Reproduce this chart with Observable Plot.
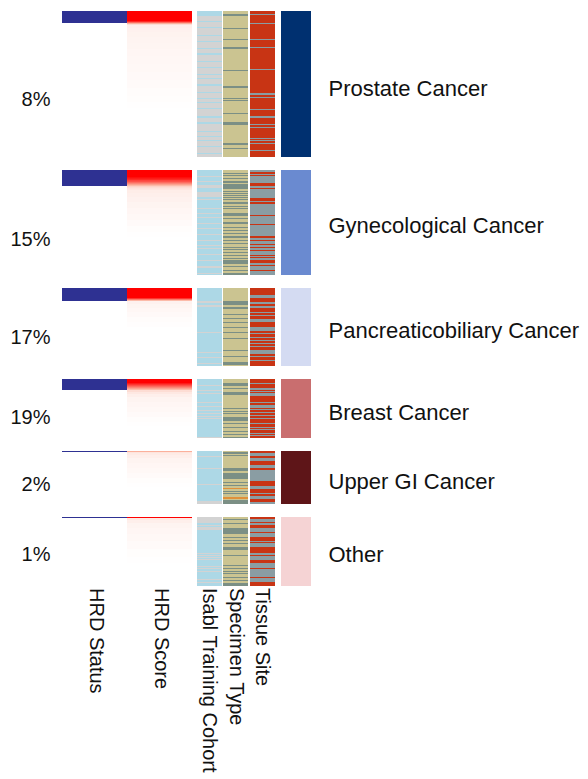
<!DOCTYPE html>
<html><head><meta charset="utf-8">
<script src="https://cdn.jsdelivr.net/npm/d3@7"></script>
<script src="https://cdn.jsdelivr.net/npm/@observablehq/plot@0.6"></script>
<style>html,body{margin:0;padding:0;background:#fff;overflow:hidden}</style>
</head><body><div id="chart"></div>
<script>
// ---------------- data ----------------
const groups = ["Prostate Cancer","Gynecological Cancer","Pancreaticobiliary Cancer","Breast Cancer","Upper GI Cancer","Other"];
const pctLabels = ["8%","15%","17%","19%","2%","1%"];
const sampleCounts = [146,105,78,59,53,69];
const hrdPositiveCounts = [12,16,13,11,1,1];
const groupColors = ["#003070","#6a8ad0","#d4dbf2","#c96e6f","#5e1518","#f5d3d4"];
const columnNames = ["HRD Status","HRD Score","Isabl Training Cohort","Specimen Type","Tissue Site"];

// HRD score (sorted, top rows first) as [score, number of rows]
const hrdScoreRuns = [
  [[1,10],[0.85,1],[0.6,1],[0.35,1],[0.15,1],[0.07,3],[0.06,4],[0.055,5],[0.05,6],[0.045,6],[0.04,7],[0.035,8],[0.03,8],[0.025,8],[0.02,8],[0.015,8],[0.01,6],[0.005,6]],
  [[1,7],[0.95,1],[0.9,1],[0.85,1],[0.75,1],[0.7,1],[0.6,1],[0.5,1],[0.4,1],[0.3,1],[0.2,1],[0.15,1],[0.12,1],[0.1,1],[0.08,3],[0.07,4],[0.06,5],[0.05,6],[0.04,6],[0.03,6],[0.02,6],[0.01,6],[0.005,5]],
  [[1,10],[0.8,1],[0.55,1],[0.3,1],[0.06,3],[0.045,4],[0.035,4],[0.025,5],[0.015,5],[0.007,5]],
  [[1,4],[0.9,1],[0.8,1],[0.7,1],[0.6,1],[0.5,1],[0.4,1],[0.3,1],[0.15,2],[0.1,2],[0.07,3],[0.05,5],[0.04,5],[0.03,5],[0.02,5],[0.01,5],[0.005,4]],
  [[0.35,1],[0.12,1],[0.09,2],[0.07,3],[0.05,5],[0.04,5],[0.03,5],[0.02,5],[0.01,5],[0.005,4]],
  [[1,1],[0.1,2],[0.07,3],[0.05,5],[0.04,6],[0.03,7],[0.02,8],[0.01,8],[0.005,6]]
];

// Isabl training cohort: base category and rows (from group top) of the other category
const cohortBase = ["No","Yes","Yes","Yes","Yes","Yes"];
const cohortOther = [
  [[0,4],10,16,24,30,37,[42,43],50,56,63,67,[73,74],81,87,91,97,[105,106],[111,112],120,125,129,135,142],
  [6,11,[15,17],[22,26],29,38,43,47,53,58,64,70,75,78,84,90,[96,97],103],
  [[13,14],[17,18],44,64,69,75],
  [6,11,14,23,27,31,34,37,39,58],
  [5,17,33,[50,52]],
  [[0,5],8,[10,12],36,38,40,42,49,51,54,62,65]
];

// Specimen type: rows of "Metastasis" on a "Primary" base, plus rare "Unknown"
const specimenMet = [
  [[3,4],17,28,36,37,59,[75,76],87,89,102,[111,113],[132,133],137],
  [3,5,8,[11,12],[14,18],21,23,25,27,29,[32,33],36,38,[43,45],48,[52,53],57,60,63,[66,67],70,73,77,79,82,85,88,[90,93],96,100,[103,104]],
  [[13,16],[19,20],26,30,34,39,44,50,62,68,[74,76]],
  [[4,6],9,[13,15],29,32,34,38,[39,41],44,48,52,55,58],
  [1,2,4,[17,19],[22,27],31,34,40,42,[49,52]],
  [2,6,[11,16],20,23,26,[30,32],38,48,51,54,56,60,63,[66,68]]
];
const specimenUnknown = [[],[],[],[],[37,[46,47]],[]];

// Tissue site: base category and rows of the other category
const tissueBase = ["Primary","Metastatic","Primary","Primary","Primary","Metastatic"];
const tissueOther = [
  [3,12,28,36,58,[82,83],86,98,[105,106],113,116,127,129,132,139],
  [[2,3],5,[13,15],18,[28,30],32,33,45,54,[66,67],70,74,77,80,85,87,[90,92],95,100],
  [[7,9],[14,15],[18,19],24,27,[31,33],[39,42],45,49,52,55,58,[62,65],68,72],
  [4,[9,10],12,[14,16],23,[26,28],30,33,36,39,44,48,50,54,56],
  [[2,4],[7,9],[14,16],[19,21],[22,29],[35,37],42,[45,47],[51,52]],
  [[0,1],5,[8,10],15,[20,23],25,[30,35],38,[43,45],51,60,[65,68]]
];

// ---------------- layout / styles ----------------
const W = 588, H = 779, GAP = 13;
const cols = {status:[62,127], score:[127,192], cohort:[197,222], specimen:[223,248], tissue:[250,275], group:[281,311]};
const palette = {
  cohort: {Yes:"#add8e6", No:"#d3d3d3"},
  specimen: {Primary:"#cbc491", Metastasis:"#7b8f85", Unknown:"#e0913a"},
  tissue: {Primary:"#c83414", Metastatic:"#8a9da3"}
};
const statusColor = "#2e3192";
const font = "'Liberation Sans', Arial, Helvetica, sans-serif";
const pctPos = [0.6, 0.66, 0.63, 0.65, 0.63, 0.54];   // vertical placement of % labels within each block
const namePos = [0.53, 0.53, 0.54, 0.56, 0.57, 0.54]; // vertical placement of group names

// ---------------- derive rows ----------------
const offsets = [];
let acc = 0;
sampleCounts.forEach((n,i)=>{ offsets.push(acc); acc += n + (i < sampleCounts.length-1 ? GAP : 0); });
const total = acc;

function rowSet(list){ const s = new Set(); for (const e of list){ if (Array.isArray(e)) for (let r=e[0]; r<=e[1]; r++) s.add(r); else s.add(e);} return s; }

function runs(values, key, g){
  const out = []; let start = 0;
  for (let r=1; r<=values.length; r++){
    if (r===values.length || values[r]!==values[start]){
      out.push({col:key, cat:values[start], y1:offsets[g]+start, y2:offsets[g]+r, group:groups[g]});
      start = r;
    }
  }
  return out;
}

const annot = [];
const scoreRects = [];
const statusRects = [];
groups.forEach((name,g)=>{
  const n = sampleCounts[g];
  const co = rowSet(cohortOther[g]);
  const cohortVals = d3.range(n).map(r => co.has(r) ? (cohortBase[g]==="Yes"?"No":"Yes") : cohortBase[g]);
  const sm = rowSet(specimenMet[g]), su = rowSet(specimenUnknown[g]);
  const specVals = d3.range(n).map(r => su.has(r) ? "Unknown" : sm.has(r) ? "Metastasis" : "Primary");
  const to = rowSet(tissueOther[g]);
  const tisVals = d3.range(n).map(r => to.has(r) ? (tissueBase[g]==="Primary"?"Metastatic":"Primary") : tissueBase[g]);
  annot.push(...runs(cohortVals,"cohort",g), ...runs(specVals,"specimen",g), ...runs(tisVals,"tissue",g));
  let r = 0;
  for (const [s,k] of hrdScoreRuns[g]){ scoreRects.push({score:s, y1:offsets[g]+r, y2:offsets[g]+r+k}); r += k; }
  statusRects.push({y1:offsets[g], y2:offsets[g]+hrdPositiveCounts[g]});
});

const groupRects = groups.map((name,g)=>({name, color:groupColors[g], y1:offsets[g], y2:offsets[g]+sampleCounts[g], pct:pctLabels[g], n:sampleCounts[g], pp:pctPos[g], np:namePos[g]}));

const scoreInterp = d3.scaleLinear().domain([0,0.35,1]).range(["#ffffff","#fbb09b","#ff0000"]).clamp(true);

const marks = [];
marks.push(Plot.rect(statusRects, {x1:()=>cols.status[0], x2:()=>cols.status[1], y1:"y1", y2:"y2", fill:statusColor}));
marks.push(Plot.rect(scoreRects, {x1:()=>cols.score[0], x2:()=>cols.score[1], y1:"y1", y2:"y2", fill:"score"}));
for (const key of ["cohort","specimen","tissue"]){
  for (const [cat,color] of Object.entries(palette[key])){
    marks.push(Plot.rect(annot.filter(d=>d.col===key && d.cat===cat), {x1:()=>cols[key][0], x2:()=>cols[key][1], y1:"y1", y2:"y2", fill:color}));
  }
}
groupRects.forEach(d=>{
  marks.push(Plot.rect([d], {x1:()=>cols.group[0], x2:()=>cols.group[1], y1:"y1", y2:"y2", fill:d.color}));
});
marks.push(Plot.text(groupRects, {x:()=>50, y:d=>d.y1 + d.n*d.pp, text:"pct", textAnchor:"end", fontSize:20, fill:"#111"}));
marks.push(Plot.text(groupRects, {x:()=>328, y:d=>d.y1 + d.n*d.np, text:"name", textAnchor:"start", fontSize:22, fill:"#111"}));
const colCenters = [ (cols.status[0]+cols.status[1])/2+1, (cols.score[0]+cols.score[1])/2+1, (cols.cohort[0]+cols.cohort[1])/2-1, (cols.specimen[0]+cols.specimen[1])/2, (cols.tissue[0]+cols.tissue[1])/2-1 ];
marks.push(Plot.text(columnNames, {x:(d,i)=>colCenters[i], y:()=>total+1.5, text:d=>d, rotate:90, textAnchor:"start", fontSize:20, fill:"#111"}));

const chart = Plot.plot({
  width: W, height: H,
  marginTop: 11, marginBottom: H - 11 - total, marginLeft: 0, marginRight: 0,
  x: {domain:[0,W], axis:null},
  y: {domain:[0,total], reverse:true, axis:null},
  color: {type:"linear", domain:[0,1], interpolate: () => scoreInterp},
  style: {fontFamily: font, background:"#fff", overflow:"visible"},
  marks
});
document.getElementById("chart").append(chart);
</script>
</body></html>
